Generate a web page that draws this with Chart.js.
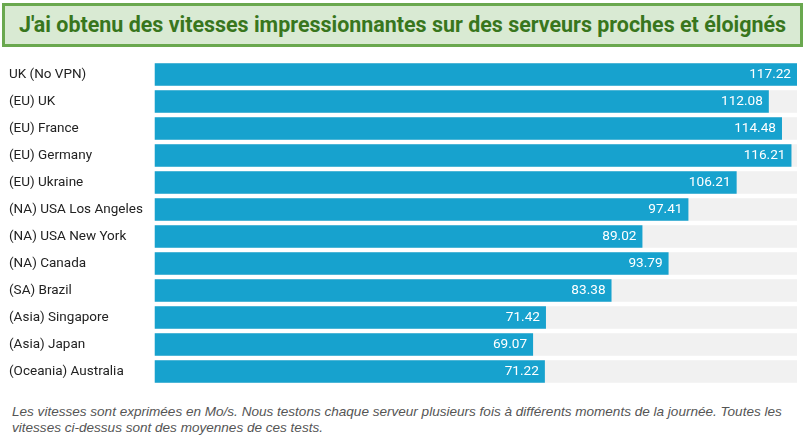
<!DOCTYPE html>
<html lang="fr">
<head>
<meta charset="utf-8">
<title>Vitesses</title>
<script src="https://cdn.jsdelivr.net/npm/chart.js@4"></script>
<style>
  html, body { margin: 0; padding: 0; background: #fff; width: 806px; height: 441px; overflow: hidden; }
  #titre {
    position: absolute; left: 2px; top: 3px; width: 795px; height: 38px;
    border: 3px solid #6aa84f; background: #d9ead3; color: #38761d;
    font: bold 21.45px Roboto, sans-serif; line-height: 38px; text-align: center; white-space: nowrap;
  }
  #zone { position: absolute; left: 0; top: 52.5px; width: 806px; height: 340px; }
  #note {
    position: absolute; left: 12px; top: 404px; width: 790px; color: #555;
    font: italic 13.55px/16px "Liberation Sans", sans-serif; white-space: nowrap;
  }
</style>
</head>
<body>
<div id="titre">J'ai obtenu des vitesses impressionnantes sur des serveurs proches et éloignés</div>
<div id="zone"><canvas id="graphe"></canvas></div>
<div id="note">Les vitesses sont exprimées en Mo/s. Nous testons chaque serveur plusieurs fois à différents moments de la journée. Toutes les<br>vitesses ci-dessus sont des moyennes de ces tests.</div>
<script>
// --- données ---
const serveurs = ['UK (No VPN)', '(EU) UK', '(EU) France', '(EU) Germany', '(EU) Ukraine',
    '(NA) USA Los Angeles', '(NA) USA New York', '(NA) Canada', '(SA) Brazil',
    '(Asia) Singapore', '(Asia) Japan', '(Oceania) Australia'];
const vitesses = [117.22, 112.08, 114.48, 116.21, 106.21, 97.41, 89.02, 93.79, 83.38, 71.42, 69.07, 71.22];
const vitesseMax = 117.22;
const fond = serveurs.map(() => vitesseMax);

// valeurs en blanc, calées à droite dans chaque barre
const etiquettes = {
    id: 'etiquettes',
    afterDatasetsDraw(chart) {
        const { ctx } = chart;
        const barres = chart.getDatasetMeta(0).data;
        ctx.save();
        ctx.font = "13.6px Roboto, sans-serif";
        ctx.fillStyle = '#fff';
        ctx.textAlign = 'right';
        ctx.textBaseline = 'middle';
        barres.forEach((b, i) => ctx.fillText(vitesses[i].toFixed(2), b.x - 6, b.y + 0.5));
        ctx.restore();
    }
};

new Chart(document.getElementById('graphe'), {
    type: 'bar',
    data: {
        labels: serveurs,
        datasets: [
            { data: vitesses, backgroundColor: '#17a2ce', order: 1 },
            { data: fond, backgroundColor: '#f1f1f1', order: 2 }
        ]
    },
    plugins: [etiquettes],
    options: {
        indexAxis: 'y',
        responsive: true,
        maintainAspectRatio: false,
        animation: false,
        layout: { padding: { top: 0, bottom: 0, left: 9, right: 9 } },
        datasets: { bar: { grouped: false, barPercentage: 0.833, categoryPercentage: 1 } },
        plugins: { legend: { display: false }, tooltip: { enabled: false } },
        scales: {
            x: { display: false, min: 0, max: vitesseMax },
            y: {
                afterFit: s => { s.width = 145.5; },
                grid: { display: false },
                border: { display: false },
                ticks: {
                    crossAlign: 'far',
                    padding: 0,
                    color: '#222',
                    font: { family: 'Roboto, sans-serif', size: 13.5 }
                }
            }
        }
    }
});
</script>
</body>
</html>
